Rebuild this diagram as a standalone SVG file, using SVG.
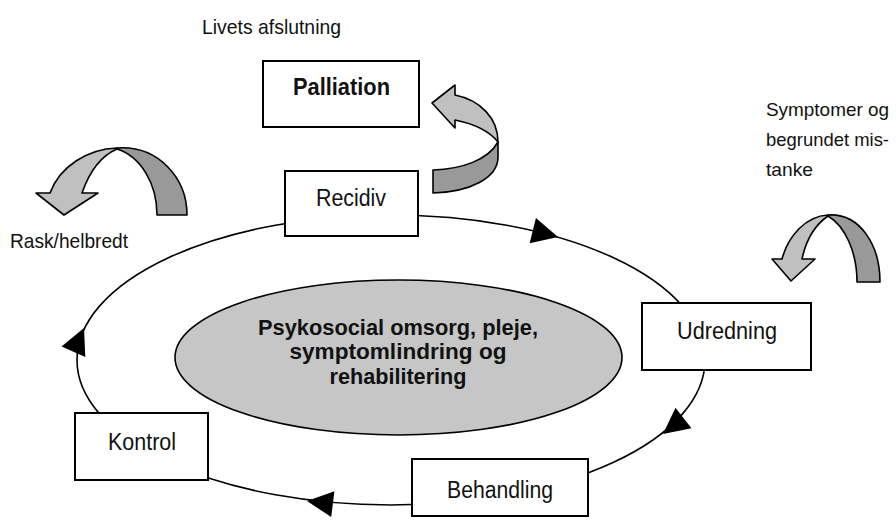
<svg xmlns="http://www.w3.org/2000/svg" width="896" height="520" viewBox="0 0 896 520">
<defs>
<style>
.t{font-family:"Liberation Sans",Arial,sans-serif;fill:#111}
.lbl{font-size:21px}
.sm{font-size:19px}
.box{fill:#fff;stroke:#000;stroke-width:2}
.bl{font-size:23px}
.b{font-weight:bold}
.cyc{fill:none;stroke:#000;stroke-width:1.6}
.ah{fill:#000}
.lt{fill:#c0c0c0;stroke:#000;stroke-width:1.6;stroke-linejoin:round}
.dk{fill:#999;stroke:#000;stroke-width:1.6;stroke-linejoin:round}
</style>
<path id="tri" d="M0,0 L-26,-13 L-26,13 Z"/>
</defs>
<rect width="896" height="520" fill="#fff"/>

<g id="connectors">
<ellipse class="cyc" cx="391" cy="360" rx="314" ry="145"/>
<use href="#tri" class="ah" transform="translate(558,237) rotate(14)"/>
<use href="#tri" class="ah" transform="translate(663,434) rotate(142)"/>
<use href="#tri" class="ah" transform="translate(307,501) rotate(187)"/>
<use href="#tri" class="ah" transform="translate(84,328) rotate(-66)"/>
</g>

<g id="center">
<ellipse cx="398.5" cy="357.5" rx="223.5" ry="77.5" fill="#c6c6c6" stroke="#000" stroke-width="1.6"/>
<text class="t b" font-size="22" text-anchor="middle" x="398" y="335" textLength="280" lengthAdjust="spacingAndGlyphs">Psykosocial omsorg, pleje,</text>
<text class="t b" font-size="22" text-anchor="middle" x="398" y="359" textLength="217" lengthAdjust="spacingAndGlyphs">symptomlindring og</text>
<text class="t b" font-size="22" text-anchor="middle" x="398" y="384" textLength="137" lengthAdjust="spacingAndGlyphs">rehabilitering</text>
</g>

<g id="recidiv">
<rect class="box" x="285" y="171" width="133" height="65"/>
<text class="t bl" x="316" y="206" textLength="70" lengthAdjust="spacingAndGlyphs">Recidiv</text>
</g>
<g id="palliation">
<rect class="box" x="263" y="61" width="156" height="66"/>
<text class="t bl b" x="293" y="95" textLength="97" lengthAdjust="spacingAndGlyphs">Palliation</text>
</g>
<g id="udredning">
<rect class="box" x="642" y="303" width="169" height="67"/>
<text class="t bl" x="677" y="339" textLength="100" lengthAdjust="spacingAndGlyphs">Udredning</text>
</g>
<g id="behandling">
<rect class="box" x="412" y="459" width="176" height="57"/>
<text class="t bl" x="447" y="498" textLength="106" lengthAdjust="spacingAndGlyphs">Behandling</text>
</g>
<g id="kontrol">
<rect class="box" x="75" y="413" width="133" height="67"/>
<text class="t bl" x="108" y="450" textLength="68" lengthAdjust="spacingAndGlyphs">Kontrol</text>
</g>

<g id="livets">
<text class="t lbl" x="202" y="34" textLength="139" lengthAdjust="spacingAndGlyphs">Livets afslutning</text>
</g>
<g id="rask">
<path class="dk" d="M117,148 C158,145 187,178 187,215 L157,215 C157,183 140,156 117,149 Z"/>
<path class="lt" d="M117,148 C88,149 60,166 50,193 L36,193 L64,215 L98,193 L82,193 C90,170 103,155 117,149 Z"/>
<text class="t lbl" x="10" y="248" textLength="118" lengthAdjust="spacingAndGlyphs">Rask/helbredt</text>
</g>
<g id="palliation-arrow">
<path class="lt" d="M498,142 C498,118 480,100 455,95 L455,85 L432,103 L455,128 L455,120 C475,124 490,132 498,142 Z"/>
<path class="dk" d="M498,142 L498,157 C498,178 470,192 433,193 L433,170 C462,169 488,160 498,142 Z"/>
</g>
<g id="symptomer">
<path class="dk" d="M828,215 C860,213 880,245 880,282 L857,282 C857,252 845,226 828,216 Z"/>
<path class="lt" d="M828,215 C806,216 788,236 782,259 L772,259 L791,281 L815,259 L802,259 C806,240 815,225 828,216 Z"/>
<text class="t sm" x="766" y="116" textLength="123" lengthAdjust="spacingAndGlyphs">Symptomer og</text>
<text class="t sm" x="766" y="146" textLength="123" lengthAdjust="spacingAndGlyphs">begrundet mis-</text>
<text class="t sm" x="766" y="176" textLength="47" lengthAdjust="spacingAndGlyphs">tanke</text>
</g>
</svg>
